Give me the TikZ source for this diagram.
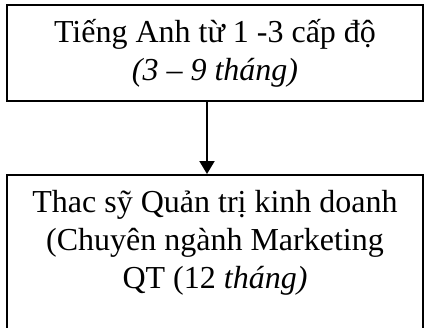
\documentclass[tikz,border=0pt]{standalone}
\usepackage{fontspec}
\setmainfont{Liberation Serif}
\usetikzlibrary{positioning,arrows.meta}
\begin{document}
\begin{tikzpicture}[boxstyle/.style={rectangle,draw,line width=1pt,minimum width=208pt,align=center,font=\fontsize{16}{19}\selectfont}]
		\tikzstyle{txt}=[align=center,inner sep=0pt,font=\fontsize{16}{19}\selectfont]
		\tikzstyle{arrow}=[draw,line width=1pt,-{Triangle[width=7.5pt,length=6.5pt]}]
		\useasboundingbox (0,0) rectangle (213.5pt,-163.5pt);
		\clip (0,0) rectangle (213.5pt,-163.5pt);
		\node[boxstyle,minimum height=48pt] (eng) at (107.5pt,-26.5pt) {Tiếng Anh từ 1 -3 cấp độ\\\textit{(3 – 9 tháng)}};
		\node[boxstyle,minimum height=90pt,below=36pt of eng] (master) {};
		\node[txt,below=8pt of master.north] (mastertxt) {Thac sỹ Quản trị kinh doanh\\(Chuyên ngành Marketing\\QT (12 \textit{tháng)}};
		\path[arrow] ([xshift=-4pt]eng.south) -- ([xshift=-4pt]master.north);
		
\end{tikzpicture}
\end{document}
